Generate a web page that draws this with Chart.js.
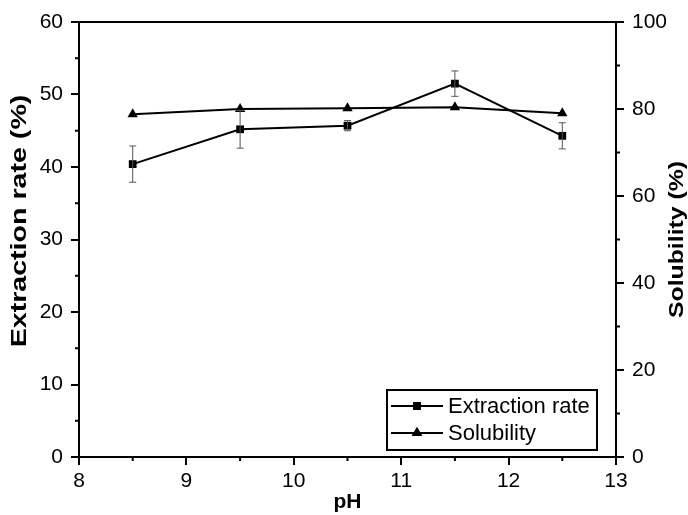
<!DOCTYPE html>
<html>
<head>
<meta charset="utf-8">
<script src="https://cdn.jsdelivr.net/npm/chart.js@4.4.0/dist/chart.umd.min.js"></script>
<style>
  html, body { margin: 0; padding: 0; background: #fff; }
  #wrap { width: 688px; height: 515px; }
</style>
</head>
<body>
<div id="wrap"><canvas id="c" width="688" height="515"></canvas></div>
<script>
// pH values and measured series
const phValues = [8.5, 9.5, 10.5, 11.5, 12.5];
const extractionRate = [40.4, 45.2, 45.7, 51.5, 44.3];
const extractionErr = [2.5, 2.6, 0.7, 1.75, 1.8];
const solubility = [78.8, 80.0, 80.2, 80.4, 79.0];

const xTicks = [8, 9, 10, 11, 12, 13];
const leftTicks = [0, 10, 20, 30, 40, 50, 60];
const rightTicks = [0, 20, 40, 60, 80, 100];

const FONT = "'Liberation Sans', Arial, sans-serif";

const toPoints = (xs, ys) => xs.map((x, i) => ({ x: x, y: ys[i] }));

// rotated title, stretched along its length like the original export
function sideTitle(ctx, text, cx, cy, size, stretch) {
  ctx.save();
  ctx.translate(cx, cy);
  ctx.rotate(-Math.PI / 2);
  ctx.scale(stretch, 1);
  ctx.fillStyle = "#000";
  ctx.font = "bold " + size + "px " + FONT;
  ctx.textAlign = "center";
  ctx.textBaseline = "middle";
  ctx.fillText(text, 0, 0);
  ctx.restore();
}

// error bars, minor ticks, top border, axis titles and legend box
const extras = {
  id: "extras",
  afterDatasetsDraw(chart) {
    const ctx = chart.ctx;
    const x = chart.scales.x, y = chart.scales.y, y1 = chart.scales.y1;
    const a = chart.chartArea;
    ctx.save();

    // error bars
    ctx.strokeStyle = "#555";
    ctx.lineWidth = 1;
    phValues.forEach((p, i) => {
      const px = x.getPixelForValue(p);
      const top = y.getPixelForValue(extractionRate[i] + extractionErr[i]);
      const bot = y.getPixelForValue(extractionRate[i] - extractionErr[i]);
      ctx.beginPath();
      ctx.moveTo(px, top); ctx.lineTo(px, bot);
      ctx.moveTo(px - 3.5, top); ctx.lineTo(px + 3.5, top);
      ctx.moveTo(px - 3.5, bot); ctx.lineTo(px + 3.5, bot);
      ctx.stroke();
    });

    // top border
    ctx.strokeStyle = "#000";
    ctx.lineWidth = 2;
    ctx.beginPath();
    ctx.moveTo(a.left - 1, a.top); ctx.lineTo(a.right + 1, a.top);
    ctx.stroke();

    // minor ticks
    ctx.beginPath();
    for (let v = 8.5; v < 13; v += 1) {
      const px = x.getPixelForValue(v);
      ctx.moveTo(px, a.bottom); ctx.lineTo(px, a.bottom + 4);
    }
    for (let v = 5; v < 60; v += 10) {
      const py = y.getPixelForValue(v);
      ctx.moveTo(a.left, py); ctx.lineTo(a.left - 4, py);
    }
    for (let v = 10; v < 100; v += 20) {
      const py = y1.getPixelForValue(v);
      ctx.moveTo(a.right, py); ctx.lineTo(a.right + 4, py);
    }
    ctx.stroke();

    sideTitle(ctx, "Extraction rate (%)", 20, 221, 22, 1.3);
    sideTitle(ctx, "Solubility (%)", 677, (a.top + a.bottom) / 2, 21, 1.18);

    // legend
    const lx = a.right - 229, ly = a.bottom - 67, lw = 210, lh = 60;
    ctx.fillStyle = "#fff";
    ctx.fillRect(lx, ly, lw, lh);
    ctx.strokeStyle = "#000";
    ctx.lineWidth = 2;
    ctx.strokeRect(lx, ly, lw, lh);
    const items = [
      { label: "Extraction rate", style: "rect" },
      { label: "Solubility", style: "triangle" }
    ];
    items.forEach((it, i) => {
      const cy = ly + 16 + i * 27;
      ctx.strokeStyle = "#000";
      ctx.lineWidth = 2;
      ctx.beginPath();
      ctx.moveTo(lx + 4, cy); ctx.lineTo(lx + 56, cy);
      ctx.stroke();
      ctx.fillStyle = "#000";
      Chart.helpers.drawPoint(ctx, { pointStyle: it.style, radius: it.style === "rect" ? 5.5 : 6, borderWidth: 0 }, lx + 30, cy);
      ctx.fill();
      ctx.font = "22px " + FONT;
      ctx.textAlign = "left";
      ctx.textBaseline = "middle";
      ctx.fillText(it.label, lx + 61, cy + 1);
    });

    ctx.restore();
  }
};

const axisGrid = { drawOnChartArea: false, drawTicks: true, tickLength: 8, color: "#000", lineWidth: 2 };
const axisBorder = { display: true, color: "#000", width: 2 };
const tickFont = { family: FONT, size: 21 };

new Chart(document.getElementById("c"), {
  type: "line",
  data: {
    datasets: [
      {
        label: "Extraction rate",
        data: toPoints(phValues, extractionRate),
        yAxisID: "y",
        borderColor: "#000",
        backgroundColor: "#000",
        borderWidth: 2,
        pointStyle: "rect",
        pointRadius: 5.5,
        pointBorderWidth: 0,
        tension: 0
      },
      {
        label: "Solubility",
        data: toPoints(phValues, solubility),
        yAxisID: "y1",
        borderColor: "#000",
        backgroundColor: "#000",
        borderWidth: 2,
        pointStyle: "triangle",
        pointRadius: 6,
        pointBorderWidth: 0,
        tension: 0
      }
    ]
  },
  options: {
    responsive: false,
    animation: false,
    layout: { padding: { top: 22, left: 0, right: 0, bottom: 0 } },
    plugins: {
      legend: { display: false },
      tooltip: { enabled: false }
    },
    scales: {
      x: {
        type: "linear",
        min: 8,
        max: 13,
        afterBuildTicks: s => { s.ticks = xTicks.map(v => ({ value: v })); },
        afterFit: s => { s.height = 58; },
        grid: axisGrid,
        border: axisBorder,
        ticks: { font: tickFont, color: "#000", padding: 4, maxRotation: 0 },
        title: { display: true, text: "pH", font: { family: FONT, size: 21, weight: "bold" }, color: "#000", padding: { top: 0, bottom: 0 } }
      },
      y: {
        position: "left",
        min: 0,
        max: 60,
        afterBuildTicks: s => { s.ticks = leftTicks.map(v => ({ value: v })); },
        afterFit: s => { s.width = 79; },
        grid: axisGrid,
        border: axisBorder,
        ticks: { font: tickFont, color: "#000", padding: 8 }
      },
      y1: {
        position: "right",
        min: 0,
        max: 100,
        afterBuildTicks: s => { s.ticks = rightTicks.map(v => ({ value: v })); },
        afterFit: s => { s.width = 72; },
        grid: axisGrid,
        border: axisBorder,
        ticks: { font: tickFont, color: "#000", padding: 8 }
      }
    }
  },
  plugins: [extras]
});
</script>
</body>
</html>
